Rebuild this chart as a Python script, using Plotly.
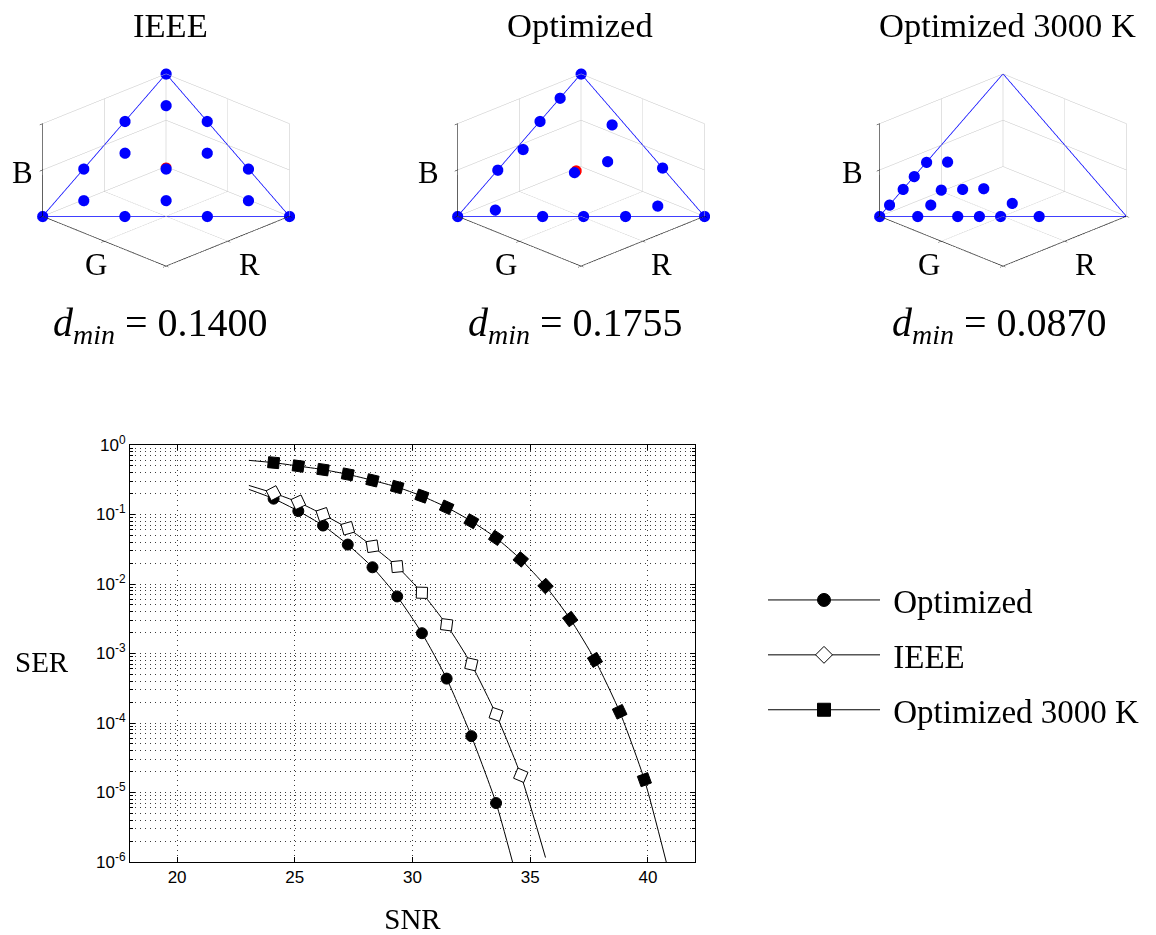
import plotly.graph_objects as go

# ---------------- SER vs SNR data ----------------
snr_opt = [24.1, 25.15, 26.2, 27.25, 28.3, 29.35, 30.4, 31.45, 32.5, 33.55]
ser_opt = [0.169, 0.112, 0.0694, 0.0369, 0.0174, 0.00662, 0.00196, 4.35e-4, 6.47e-5, 7.05e-6]

snr_ieee = [24.1, 25.15, 26.2, 27.25, 28.3, 29.35, 30.4, 31.45, 32.5, 33.55, 34.6]
ser_ieee = [0.203, 0.150, 0.100, 0.0634, 0.0349, 0.0178, 0.00748, 0.00259, 7.0e-4, 1.33e-4, 1.77e-5]

snr_3000 = [24.1, 25.15, 26.2, 27.25, 28.3, 29.35, 30.4, 31.45, 32.5, 33.55,
            34.6, 35.65, 36.7, 37.75, 38.8, 39.85]
ser_3000 = [0.557, 0.498, 0.442, 0.378, 0.310, 0.248, 0.184, 0.127, 0.080, 0.0461,
            0.0226, 0.00935, 0.00313, 8.09e-4, 1.45e-4, 1.53e-5]

# ends of the continuous (analytic) curves
curve_start_snr = 23.05
curve_start_opt, curve_start_ieee, curve_start_3000 = 0.230, 0.262, 0.601
curve_end_snr_opt, curve_end_opt = 34.25, 1.0e-6
curve_end_snr_ieee, curve_end_ieee = 35.65, 1.16e-6
curve_end_snr_3000, curve_end_3000 = 40.78, 1.0e-6

x_ticks = [20, 25, 30, 35, 40]
y_ticks = [1e-6, 1e-5, 1e-4, 1e-3, 1e-2, 1e-1, 1e0]
y_tick_text = ["10<sup>-6</sup>", "10<sup>-5</sup>", "10<sup>-4</sup>", "10<sup>-3</sup>",
               "10<sup>-2</sup>", "10<sup>-1</sup>", "10<sup>0</sup>"]

# ---------------- constellations in the RGB simplex ----------------
simplex_r = [1, 0, 0, 1]
simplex_g = [0, 1, 0, 0]
simplex_b = [0, 0, 1, 0]

ieee_r = [0, 0.333, 0, 0.667, 0.333, 0, 1, 0.667, 0.333, 0, 0.111, 0.444, 0.111, 0.778, 0.444, 0.111]
ieee_g = [0, 0, 0.333, 0, 0.333, 0.667, 0, 0.333, 0.667, 1, 0.111, 0.111, 0.444, 0.111, 0.444, 0.778]
ieee_b = [1, 0.667, 0.667, 0.333, 0.333, 0.333, 0, 0, 0, 0, 0.778, 0.444, 0.444, 0.111, 0.111, 0.111]

opt_r = [0, 0.17, 0.333, 0.50, 0.675, 0.825, 1, 0.656, 0.49, 0.32, 0, 0.153, 0, 0.20, 0.053, 0.373]
opt_g = [0, 0, 0, 0.03, 0, 0.13, 0, 0.344, 0.51, 0.68, 1, 0.774, 0.66, 0.415, 0.304, 0.319]
opt_b = [1, 0.83, 0.667, 0.47, 0.325, 0.045, 0, 0, 0, 0, 0, 0.073, 0.34, 0.385, 0.643, 0.308]

k3000_r = [1, 0.92, 0.81, 0.72, 0.62, 0.534, 0.658, 0.569, 0.481, 0.753, 0.417, 0.846, 0.684, 0.596, 0.51, 0.354]
k3000_g = [0, 0, 0, 0, 0, 0.084, 0.157, 0.241, 0.324, 0.167, 0.491, 0.154, 0.316, 0.404, 0.49, 0.646]
k3000_b = [0, 0.08, 0.19, 0.28, 0.38, 0.382, 0.185, 0.19, 0.195, 0.08, 0.092, 0, 0, 0, 0, 0]

# red reference (white) points, mostly hidden behind a blue point
red_ieee = ([0.33], [0.33], [0.34])
red_opt = ([0.36], [0.32], [0.32])

panel_titles = ["IEEE", "Optimized", "Optimized 3000 K"]
dmin_values = ["0.1400", "0.1755", "0.0870"]

SERIF = "Liberation Serif"
SANS = "Liberation Sans"

W, H = 1156, 935
OFF = 8  # page offset of the plot div inside the html body


def px(x):
    return min(1.0, max(0.0, (x - OFF) / W))


def py(y):
    return min(1.0, max(0.0, 1 - (y - OFF) / H))


fig = go.Figure()

# ---------- 3D panels ----------
panel_centers = [166, 580.5, 1002.5]
panels = [
    (ieee_r, ieee_g, ieee_b, red_ieee),
    (opt_r, opt_g, opt_b, red_opt),
    (k3000_r, k3000_g, k3000_b, None),
]
k = 1.37
box = 1.293
for i, ((pr, pg, pb, red), cx) in enumerate(zip(panels, panel_centers)):
    sid = "scene" if i == 0 else f"scene{i+1}"
    fig.add_trace(go.Scatter3d(x=simplex_r, y=simplex_g, z=simplex_b, mode="lines",
                               line=dict(color="#0000ff", width=1.5), showlegend=False,
                               hoverinfo="skip", scene=sid))
    if red is not None:
        fig.add_trace(go.Scatter3d(x=red[0], y=red[1], z=red[2], mode="markers",
                                   marker=dict(color="#ff0000", size=6.5), showlegend=False,
                                   scene=sid))
    fig.add_trace(go.Scatter3d(x=pr, y=pg, z=pb, mode="markers",
                               marker=dict(color="#0000ff", size=6.5), showlegend=False,
                               scene=sid))
    ax = dict(range=[0, 1], tickvals=[0, 0.5, 1], showticklabels=False,
              showgrid=True, gridcolor="#c4c4c4", gridwidth=1,
              showline=True, linecolor="black", linewidth=1.5,
              ticks="inside", ticklen=4, tickcolor="black",
              zeroline=False, showbackground=False, showspikes=False,
              autorange=False, title=dict(text=""))
    scene = dict(
        domain=dict(x=[px(cx - 150), px(cx + 150)], y=[py(170 + 135), py(170 - 135)]),
        xaxis=ax, yaxis=ax, zaxis=ax,
        aspectmode="manual", aspectratio=dict(x=box, y=box, z=0.58 * box),
        camera=dict(eye=dict(x=1.25 / k, y=1.25 / k, z=0.78 / k), up=dict(x=0, y=0, z=1),
                    center=dict(x=0, y=0, z=0), projection=dict(type="orthographic")),
        bgcolor="white",
    )
    fig.layout[sid] = scene

# ---------- SER curves ----------
curves = [
    ("Optimized", snr_opt, ser_opt, curve_start_opt, curve_end_snr_opt, curve_end_opt,
     dict(symbol="circle", color="black", size=11, line=dict(color="black", width=1))),
    ("IEEE", snr_ieee, ser_ieee, curve_start_ieee, curve_end_snr_ieee, curve_end_ieee,
     dict(symbol="diamond", color="white", size=12, line=dict(color="black", width=1))),
    ("Optimized 3000 K", snr_3000, ser_3000, curve_start_3000, curve_end_snr_3000, curve_end_3000,
     dict(symbol="square", color="black", size=11, line=dict(color="black", width=1))),
]
for name, xs, ys, y0, xe, ye, mk in curves:
    fig.add_trace(go.Scatter(x=[curve_start_snr] + xs + [xe], y=[y0] + ys + [ye],
                             mode="lines", line=dict(color="black", width=1, shape="spline", smoothing=0.6),
                             showlegend=False, hoverinfo="skip", xaxis="x", yaxis="y"))
    # the curve start is included (with a zero-size marker) so every marker can
    # be oriented along the line from its predecessor
    sizes = [0] + [mk["size"]] * len(xs)
    fig.add_trace(go.Scatter(x=[curve_start_snr] + xs, y=[y0] + ys, mode="markers",
                             marker=dict(mk, size=sizes, opacity=1, angleref="previous"),
                             showlegend=False, xaxis="x", yaxis="y"))
for name, xs, ys, y0, xe, ye, mk in curves:
    fig.add_trace(go.Scatter(x=[None], y=[None], mode="lines+markers", name="\u00a0" + name,
                             line=dict(color="black", width=1),
                             marker=dict(mk, size=13, opacity=1), legendgroup=name,
                             xaxis="x", yaxis="y"))

grid_col = "#3c3c3c"
fig.update_layout(
    width=W, height=H,
    margin=dict(l=0, r=0, t=0, b=0, autoexpand=False),
    paper_bgcolor="white", plot_bgcolor="white",
    showlegend=True,
    xaxis=dict(domain=[px(130), px(695)], range=[18, 42], tickvals=x_ticks,
               showgrid=True, gridcolor=grid_col, griddash="1px,4px", gridwidth=1,
               showline=True, linecolor="black", linewidth=1, mirror="allticks",
               ticks="inside", ticklen=5, tickcolor="black", zeroline=False,
               tickfont=dict(family=SANS, size=17, color="black"),
               title=dict(text="SNR", font=dict(family=SERIF, size=29, color="black"), standoff=22)),
    yaxis=dict(domain=[py(862), py(445)], type="log", range=[-6, 0],
               tickvals=y_ticks, ticktext=y_tick_text,
               showgrid=True, gridcolor=grid_col, griddash="1px,4px", gridwidth=1,
               showline=True, linecolor="black", linewidth=1, mirror="allticks",
               ticks="inside", ticklen=5, tickcolor="black", zeroline=False,
               tickfont=dict(family=SANS, size=17, color="black"),
               minor=dict(dtick="D1", showgrid=True, gridcolor=grid_col, griddash="1px,4px",
                          ticks="inside", ticklen=3, tickcolor="black"),
               title=dict(text="")),
    legend=dict(x=px(763), y=py(572), xanchor="left", yanchor="top",
                font=dict(family=SERIF, size=33, color="black"),
                itemwidth=112, tracegroupgap=9, traceorder="grouped",
                bgcolor="rgba(0,0,0,0)"),
)

annotations = []


def label(text, x, y, size, anchor="center"):
    annotations.append(dict(text=text, x=px(x), y=py(y), xref="paper", yref="paper",
                            showarrow=False, xanchor=anchor, yanchor="middle",
                            font=dict(family=SERIF, size=size, color="black")))


for t, cx in zip(panel_titles, [170, 580, 1007]):
    label(t, cx, 25, 34.5)
for v, cx in zip(dmin_values, [160, 575, 999]):
    label(f"<i>d</i><sub><i>min</i></sub>\u00a0=\u00a0{v}", cx, 325, 40)
# 3D axis names
for bx, gx, rx in [(22, 96, 249), (429, 506, 661), (852, 929, 1085)]:
    label("B", bx, 172, 31)
    label("G", gx, 264, 31)
    label("R", rx, 264, 31)
label("SER", 42, 662, 29)
fig.update_layout(annotations=annotations)

fig.write_html("out.html")
